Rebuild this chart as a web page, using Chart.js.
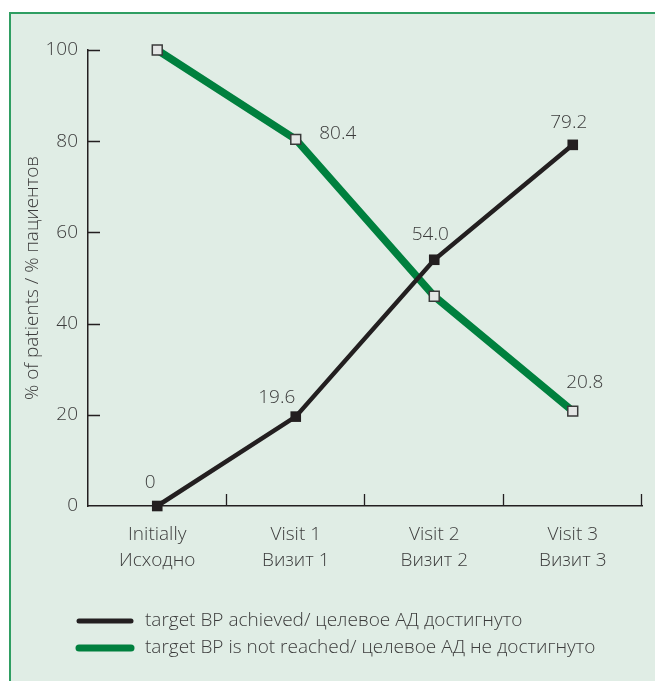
<!DOCTYPE html>
<html>
<head>
<meta charset="utf-8">
<script src="https://cdn.jsdelivr.net/npm/chart.js@4"></script>
<style>
  body { margin: 0; background: #ffffff; }
  #marco {
    position: absolute; left: 9px; top: 12px; width: 700px; height: 700px;
    background: #e0ede5; border-left: 2px solid #2f9e62; border-top: 2px solid #2f9e62;
  }
  #lienzo { position: absolute; left: 0; top: 0; }
</style>
</head>
<body>
<div id="marco"></div>
<canvas id="lienzo" width="655" height="681"></canvas>
<script>
/*******************************************************/
/*datos del grafico*/
var categorias = [
	['Initially', 'Исходно'],
	['Visit 1', 'Визит 1'],
	['Visit 2', 'Визит 2'],
	['Visit 3', 'Визит 3']
];
var valores_logrado = [0, 19.6, 54.0, 79.2];
var valores_no_logrado = [100, 80.4, 46.0, 20.8];
var etiquetas_logrado = ['0', '19.6', '54.0', '79.2'];
var etiquetas_no_logrado = ['', '80.4', '', '20.8'];
var ticks_y = [0, 20, 40, 60, 80, 100];
var nombre_logrado = 'target BP achieved/ целевое АД достигнуто';
var nombre_no_logrado = 'target BP is not reached/ целевое АД не достигнуто';
var titulo_y = '% of patients / % пациентов';

/*******************************************************/
//estilo (no son datos)
var fuente = "'Open Sans', sans-serif";
var peso = 300;
var tam = 19;
var color_texto = '#3c3c3c';
var color_negro = '#231f20';
var color_verde = '#00803e';
//desplazamiento de cada etiqueta respecto a su punto
var desplaz_logrado = [[-7, -23], [-19, -19], [-4, -25], [-4, -22]];
var desplaz_no_logrado = [[0, 0], [42, -6], [0, 0], [12, -29]];

/*******************************************************/
//etiquetas de valores junto a los puntos
var plugin_etiquetas = {
	id: 'etiquetas',
	afterDatasetsDraw: function(chart) {
		var ctx = chart.ctx;
		ctx.save();
		ctx.font = peso + ' ' + tam + 'px ' + fuente;
		ctx.fillStyle = color_texto;
		ctx.textAlign = 'center';
		ctx.textBaseline = 'middle';
		chart.data.datasets.forEach(function(dataset, i) {
			var meta = chart.getDatasetMeta(i);
			meta.data.forEach(function(punto, j) {
				var txt = dataset.etiquetas[j];
				if (!txt) return;
				var d = dataset.desplaz[j];
				ctx.fillText(txt, punto.x + d[0], punto.y + d[1]);
			});
		});
		ctx.restore();
	}
};

//marcas cortas hacia dentro en los ejes
var plugin_marcas = {
	id: 'marcas',
	afterDraw: function(chart) {
		var ctx = chart.ctx;
		var ex = chart.scales.x, ey = chart.scales.y;
		ctx.save();
		ctx.strokeStyle = color_negro;
		ctx.lineWidth = 1.3;
		ctx.beginPath();
		ey.ticks.forEach(function(t, i) {
			if (t.value === 0) return;
			var py = Math.round(ey.getPixelForTick(i)) + 0.5;
			ctx.moveTo(ex.left, py);
			ctx.lineTo(ex.left + 12, py);
		});
		var n = categorias.length;
		for (var k = 1; k <= n; k++) {
			var px = Math.round(ex.left + k * ex.width / n) - 0.5;
			ctx.moveTo(px, ey.bottom);
			ctx.lineTo(px, ey.bottom - 12);
		}
		ctx.stroke();
		ctx.restore();
	}
};

//leyenda con lineas debajo del grafico
var plugin_leyenda = {
	id: 'leyenda_lineas',
	afterDraw: function(chart) {
		var ctx = chart.ctx;
		ctx.save();
		ctx.font = peso + ' ' + tam + 'px ' + fuente;
		ctx.textBaseline = 'middle';
		ctx.lineCap = 'round';
		chart.data.datasets.forEach(function(dataset, i) {
			var y = 621 + i * 27;
			ctx.strokeStyle = dataset.borderColor;
			ctx.lineWidth = i === 0 ? 5 : 7;
			ctx.beginPath();
			ctx.moveTo(79, y);
			ctx.lineTo(131, y);
			ctx.stroke();
			ctx.fillStyle = color_texto;
			ctx.fillText(dataset.label, 145, y);
		});
		ctx.restore();
	}
};

/*******************************************************/
var configuracion = {
	type: 'line',
	data: {
		labels: categorias,
		datasets: [{
			label: nombre_logrado,
			data: valores_logrado,
			etiquetas: etiquetas_logrado,
			desplaz: desplaz_logrado,
			borderColor: color_negro,
			borderWidth: 4.5,
			pointStyle: 'rect',
			pointRadius: 7.5,
			pointBackgroundColor: color_negro,
			pointBorderColor: color_negro,
			pointBorderWidth: 0,
			tension: 0,
			clip: false
		}, {
			label: nombre_no_logrado,
			data: valores_no_logrado,
			etiquetas: etiquetas_no_logrado,
			desplaz: desplaz_no_logrado,
			borderColor: color_verde,
			borderWidth: 7.5,
			pointStyle: 'rect',
			pointRadius: 7,
			pointBackgroundColor: '#e4e6e5',
			pointBorderColor: '#3a3a3a',
			pointBorderWidth: 1.5,
			tension: 0,
			clip: false
		}]
	},
	options: {
		responsive: false,
		animation: false,
		layout: { padding: { top: 50, right: 13, bottom: 105, left: 0 } },
		plugins: {
			legend: { display: false },
			tooltip: { enabled: false }
		},
		scales: {
			x: {
				offset: true,
				grid: { display: false, drawTicks: false },
				border: { display: true, color: color_negro, width: 1.5 },
				ticks: {
					padding: 16,
					color: color_texto,
					font: { family: fuente, size: tam, weight: peso, lineHeight: 1.37 }
				},
				afterFit: function(escala) { escala.height = 70; }
			},
			y: {
				min: 0,
				max: 100,
				afterBuildTicks: function(escala) {
					escala.ticks = ticks_y.map(function(v) { return { value: v }; });
				},
				grid: { display: false, drawTicks: false },
				border: { display: true, color: color_negro, width: 1.5 },
				ticks: {
					padding: 10,
					color: color_texto,
					font: { family: fuente, size: tam, weight: peso }
				},
				title: {
					display: true,
					text: titulo_y,
					color: color_texto,
					font: { family: fuente, size: tam, weight: peso },
					padding: { top: 21, bottom: 0 }
				},
				afterFit: function(escala) { escala.width = 88; }
			}
		}
	},
	plugins: [plugin_etiquetas, plugin_marcas, plugin_leyenda]
};

var ctx = document.getElementById('lienzo').getContext('2d');
window.mi_grafico = new Chart(ctx, configuracion);
</script>
</body>
</html>
